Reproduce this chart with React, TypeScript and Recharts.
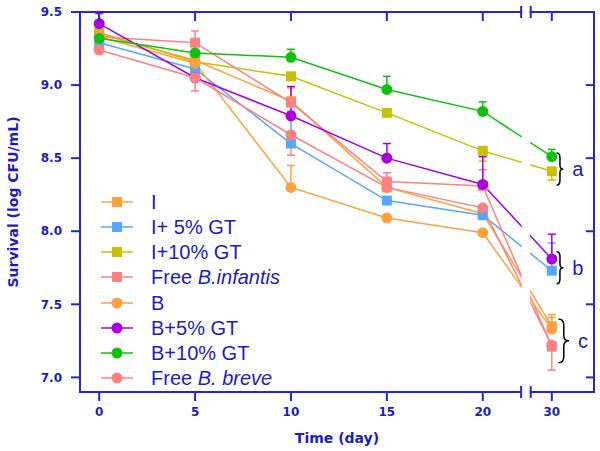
import React from 'react';
import { LineChart, Line, XAxis, YAxis, ErrorBar, ReferenceArea, ReferenceLine } from 'recharts';

const TEXT_BLUE = '#1c1cc0';
const AXIS_BLUE = '#2626d4';
const FONT = '"Liberation Sans", Arial, sans-serif';
const TICK_FONT = '"DejaVu Sans", sans-serif';

const DAY_LABELS = ['0', '5', '10', '15', '20', '30'];
// day 30 is drawn just after the axis break
const DAY_POS = [0, 5, 10, 15, 20, 23.6];
const Y_TICKS = [7.0, 7.5, 8.0, 8.5, 9.0, 9.5];
const X_DOMAIN = [-1, 25.8];
const Y_DOMAIN = [6.9, 9.5];
const BREAK = [22.0, 22.5];

// survival means (log CFU/mL); errors: + drawn upward, - drawn downward, 0 none
const I_MEAN = [9.35, 9.17, 8.89, 8.3, 8.12, 7.35];
const I_ERR = [0, 0, 0.09, 0, 0, 0.08];
const I5_MEAN = [9.29, 9.11, 8.6, 8.21, 8.11, 7.73];
const I5_ERR = [0, 0, 0.22, 0, 0, 0.19];
const I10_MEAN = [9.36, 9.16, 9.06, 8.81, 8.55, 8.41];
const I10_ERR = [0, 0, 0, 0, -0.07, -0.06];
const FREE_INF_MEAN = [9.33, 9.29, 8.88, 8.34, 8.31, 7.21];
const FREE_INF_ERR = [0, 0.08, 0, 0.06, 0.11, -0.16];
const B_MEAN = [9.33, 9.15, 8.3, 8.09, 7.99, 7.33];
const B_ERR = [0, 0, 0.15, 0, 0, 0.08];
const B5_MEAN = [9.42, 9.05, 8.79, 8.5, 8.32, 7.81];
const B5_ERR = [0.07, 0, 0.2, 0.1, 0.19, 0.17];
const B10_MEAN = [9.32, 9.22, 9.19, 8.97, 8.82, 8.51];
const B10_ERR = [0, 0.09, 0.055, 0.09, 0.065, 0.05];
const FREE_BRE_MEAN = [9.24, 9.05, 8.66, 8.3, 8.16, 7.22];
const FREE_BRE_ERR = [0, -0.09, -0.14, 0, 0, 0];

// significance groups at day 30
const GROUP_LETTERS = ['a', 'b', 'c'];
const GROUP_TOP = [8.535, 7.86, 7.4];
const GROUP_BOTTOM = [8.315, 7.64, 7.1];

const SERIES = [
  { key: 'i', label: 'I', italic: '', color: '#ffa040', shape: 'square', mean: I_MEAN, err: I_ERR },
  { key: 'i5', label: 'I+ 5% GT', italic: '', color: '#55a8ff', shape: 'square', mean: I5_MEAN, err: I5_ERR },
  { key: 'i10', label: 'I+10% GT', italic: '', color: '#c8c000', shape: 'square', mean: I10_MEAN, err: I10_ERR },
  { key: 'fi', label: 'Free ', italic: 'B.infantis', color: '#ff8080', shape: 'square', mean: FREE_INF_MEAN, err: FREE_INF_ERR },
  { key: 'b', label: 'B', italic: '', color: '#ffa040', shape: 'circle', mean: B_MEAN, err: B_ERR },
  { key: 'b5', label: 'B+5% GT', italic: '', color: '#aa00e0', shape: 'circle', mean: B5_MEAN, err: B5_ERR },
  { key: 'b10', label: 'B+10% GT', italic: '', color: '#10c010', shape: 'circle', mean: B10_MEAN, err: B10_ERR },
  { key: 'fb', label: 'Free ', italic: 'B. breve', color: '#ff8080', shape: 'circle', mean: FREE_BRE_MEAN, err: FREE_BRE_ERR },
];

const rows = DAY_POS.map((x, i) => {
  const r: Record<string, any> = { x };
  SERIES.forEach((s) => {
    r[s.key] = s.mean[i];
    const e = s.err[i];
    r[s.key + 'E'] = e === 0 ? null : e > 0 ? [0, e] : [-e, 0];
  });
  return r;
});

// frame pieces (box around the plot, broken at the axis break)
const [x0, x1] = X_DOMAIN;
const [y0, y1] = Y_DOMAIN;
const FRAME = [
  [{ x: x0, y: y0 }, { x: x0, y: y1 }],
  [{ x: x1, y: y0 }, { x: x1, y: y1 }],
  [{ x: x0, y: y0 }, { x: BREAK[0], y: y0 }],
  [{ x: BREAK[1], y: y0 }, { x: x1, y: y0 }],
  [{ x: x0, y: y1 }, { x: BREAK[0], y: y1 }],
  [{ x: BREAK[1], y: y1 }, { x: x1, y: y1 }],
];
const TX = 0.417; // 8 px in x units
const TY = 0.0547; // 8 px in y units
const TICK_SEGS = [
  ...DAY_POS.map((d) => [{ x: d, y: y0 - TY }, { x: d, y: y0 }]),
  ...DAY_POS.map((d) => [{ x: d, y: y1 }, { x: d, y: y1 - TY }]),
  ...Y_TICKS.map((v) => [{ x: x0 - TX, y: v }, { x: x0, y: v }]),
  ...Y_TICKS.map((v) => [{ x: x1 - TX * 0.9, y: v }, { x: x1, y: v }]),
  ...BREAK.flatMap((b) => [
    [{ x: b, y: y0 - 0.035 }, { x: b, y: y0 + 0.035 }],
    [{ x: b, y: y1 - 0.035 }, { x: b, y: y1 + 0.035 }],
  ]),
];

function Marker({ cx, cy, color, shape }: { cx?: number; cy?: number; color: string; shape: string }) {
  if (cx == null || cy == null) return null;
  if (shape === 'square') return <rect x={cx - 5} y={cy - 5} width={10} height={10} fill={color} />;
  return <circle cx={cx} cy={cy} r={5.5} fill={color} />;
}

function Brace(props: any) {
  const { x, y, width: w, height: h, letter } = props;
  const mx = x + w / 2;
  const d = `M${x},${y} Q${mx},${y} ${mx},${y + h * 0.15} L${mx},${y + h * 0.38} Q${mx},${y + h / 2} ${x + w},${y + h / 2} Q${mx},${y + h / 2} ${mx},${y + h * 0.62} L${mx},${y + h * 0.85} Q${mx},${y + h} ${x},${y + h}`;
  return (
    <g>
      <path d={d} fill="none" stroke="#000" strokeWidth={1.5} />
      <text x={x + w + 9} y={y + h / 2} dominantBaseline="central" fill={TEXT_BLUE} fontSize={20} fontFamily={FONT}>
        {letter}
      </text>
    </g>
  );
}

function LegendList() {
  return (
    <div style={{ position: 'absolute', left: 101, top: 189.5, fontFamily: FONT, fontSize: 20, color: TEXT_BLUE }}>
      {SERIES.map((s) => (
        <div key={s.key} style={{ display: 'flex', alignItems: 'center', height: 25.15 }}>
          <svg width={32} height={14} style={{ overflow: 'visible' }}>
            <line x1={0} y1={7} x2={32} y2={7} stroke={s.color} strokeWidth={1.5} />
            <Marker cx={16} cy={7} color={s.color} shape={s.shape} />
          </svg>
          <span style={{ marginLeft: 18, lineHeight: 1, whiteSpace: 'nowrap' }}>
            {s.label}
            {s.italic && <i>{s.italic}</i>}
          </span>
        </div>
      ))}
    </div>
  );
}

const tickStyle = { fill: TEXT_BLUE, fontSize: 12, fontWeight: 'bold', fontFamily: TICK_FONT };

export default function App() {
  return (
    <div style={{ position: 'absolute', left: 0, top: 0, width: 600, height: 451, background: '#fff' }}>
      <LineChart width={600} height={451} data={rows} margin={{ top: 12, right: 6, left: 0, bottom: 0 }}>
        <XAxis
          dataKey="x"
          type="number"
          domain={X_DOMAIN}
          ticks={DAY_POS}
          tickFormatter={(v: number) => DAY_LABELS[DAY_POS.indexOf(v)]}
          height={59}
          tickSize={8}
          tickMargin={7}
          axisLine={false}
          tickLine={false}
          tick={tickStyle}
          label={(p: any) => (
            <text
              x={p.viewBox.x + p.viewBox.width / 2}
              y={p.viewBox.y + p.viewBox.height - 8}
              textAnchor="middle"
              fill={TEXT_BLUE}
              fontSize={14}
              fontWeight="bold"
              fontFamily={TICK_FONT}
            >
              Time (day)
            </text>
          )}
        />
        <YAxis
          type="number"
          domain={Y_DOMAIN}
          ticks={Y_TICKS}
          tickFormatter={(v: number) => v.toFixed(1)}
          width={80}
          tickSize={8}
          tickMargin={10}
          axisLine={false}
          tickLine={false}
          tick={tickStyle}
          label={(p: any) => {
            const cy = p.viewBox.y + p.viewBox.height / 2;
            return (
              <text
                x={18}
                y={cy}
                transform={`rotate(-90, 18, ${cy})`}
                textAnchor="middle"
                fill={TEXT_BLUE}
                fontSize={14}
                fontWeight="bold"
                fontFamily={TICK_FONT}
              >
                Survival (log CFU/mL)
              </text>
            );
          }}
        />
        {SERIES.map((s) => (
          <Line
            key={s.key}
            dataKey={s.key}
            type="linear"
            stroke={s.color}
            strokeWidth={1.5}
            activeDot={false}
            isAnimationActive={false}
            dot={(p: any) => <Marker key={`${s.key}-${p.index}`} cx={p.cx} cy={p.cy} color={s.color} shape={s.shape} />}
          >
            <ErrorBar dataKey={s.key + 'E'} direction="y" width={4} stroke={s.color} strokeWidth={1.5} />
          </Line>
        ))}
        {/* axis break: blank strip through the series lines */}
        <ReferenceArea x1={BREAK[0] + 0.03} x2={BREAK[1] - 0.03} y1={y0} y2={y1} fill="#fff" fillOpacity={1} stroke="none" ifOverflow="visible" zIndex={600} />
        {[...FRAME, ...TICK_SEGS].map((seg, i) => (
          <ReferenceLine
            key={`frame-${i}`}
            segment={seg}
            stroke={AXIS_BLUE}
            strokeWidth={2}
            strokeLinecap="square"
            ifOverflow="visible"
            zIndex={700}
          />
        ))}
        {GROUP_LETTERS.map((g, i) => (
          <ReferenceArea
            key={`grp-${g}`}
            x1={i === 2 ? 23.95 : 23.85}
            x2={i === 2 ? 24.5 : 24.2}
            y1={GROUP_BOTTOM[i]}
            y2={GROUP_TOP[i]}
            ifOverflow="visible"
            zIndex={700}
            shape={(p: any) => <Brace {...p} letter={g} />}
          />
        ))}
      </LineChart>
      <LegendList />
    </div>
  );
}
